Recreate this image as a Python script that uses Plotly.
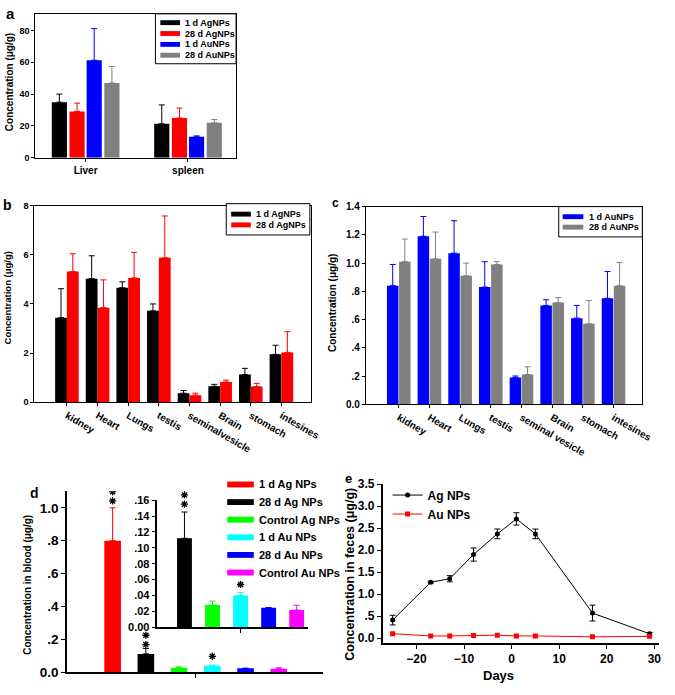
import plotly.graph_objects as go

W, H = 675, 695
FONT = "Liberation Sans"


def px(x):
    return x / W


def py(y):
    return 1 - y / H


# ---------------- data ----------------
# panel a
a_organs = ["Liver", "spleen"]
a_ag1 = [34.9, 21.3]
a_ag1_err = [5.1, 11.9]
a_ag28 = [29.1, 25.0]
a_ag28_err = [5.2, 6.2]
a_au1 = [61.3, 13.1]
a_au1_err = [19.9, 0.6]
a_au28 = [47.0, 21.9]
a_au28_err = [10.4, 2.1]
a_names = ["1 d AgNPs", "28 d AgNPs", "1 d AuNPs", "28 d AuNPs"]

# panel b
b_organs = ["kidney", "Heart", "Lungs", "testis", "seminalvesicle", "Brain", "stomach", "intesines"]
b_ag1 = [3.44, 5.03, 4.66, 3.72, 0.37, 0.65, 1.13, 1.95]
b_ag1_err = [1.18, 0.93, 0.24, 0.28, 0.11, 0.08, 0.25, 0.37]
b_ag28 = [5.32, 3.85, 5.06, 5.88, 0.29, 0.82, 0.64, 2.03]
b_ag28_err = [0.72, 1.13, 1.04, 1.70, 0.08, 0.08, 0.13, 0.84]
b_names = ["1 d AgNPs", "28 d AgNPs"]

# panel c
c_organs = ["kidney", "Heart", "Lungs", "testis", "seminal vesicle", "Brain", "stomach", "intesines"]
c_au1 = [0.84, 1.19, 1.07, 0.83, 0.19, 0.70, 0.61, 0.75]
c_au1_err = [0.15, 0.14, 0.23, 0.18, 0.01, 0.04, 0.09, 0.19]
c_au28 = [1.01, 1.03, 0.91, 0.99, 0.21, 0.72, 0.57, 0.84]
c_au28_err = [0.16, 0.19, 0.09, 0.02, 0.055, 0.035, 0.165, 0.165]
c_names = ["1 d AuNPs", "28 d AuNPs"]

# panel d
d_groups = ["1 d Ag NPs", "28 d Ag NPs", "Control Ag NPs", "1 d Au NPs", "28 d Au NPs", "Control Au NPs"]
d_vals = [0.80, 0.112, 0.028, 0.040, 0.0246, 0.0217]
d_err = [0.20, 0.033, 0.005, 0.004, 0.0, 0.006]
d_stars = [2, 2, 0, 1, 0, 0]
d_colors = ["#FF0000", "#000000", "#00FF00", "#00FFFF", "#0000FF", "#FF00FF"]

# panel e
e_days = [-25, -17, -13, -8, -3, 1, 5, 17, 29]
e_ag = [0.41, 1.27, 1.35, 1.90, 2.37, 2.71, 2.37, 0.57, 0.10]
e_ag_err = [0.11, 0.02, 0.07, 0.15, 0.11, 0.14, 0.11, 0.18, 0.03]
e_au = [0.10, 0.05, 0.05, 0.06, 0.067, 0.05, 0.05, 0.03, 0.04]

BLACK, RED, BLUE, GREY = "#000000", "#FF0000", "#0000FF", "#808080"

# axis geometry (pixels) for panel d
D_MAIN = dict(x0=68, x1=328, y0=495, y1=680, xr=(-1.376, 6.32), yr=(0, 1.1))
D_INS = dict(x0=160, x1=313, y0=504, y1=634, xr=(-0.965, 4.4), yr=(0, 0.16))
STAR_ROOM = 14  # extra pixels above the inset used by the (invisible) star layer
# star placement style: pixel lift of first star per bar, pixel gap between stars
STAR_LIFT_MAIN = [7, 4, 0, 9, 0, 0]
STAR_LIFT_INS = [0, 8, 0, 8, 0, 0]
STAR_GAP = 9.5

fig = go.Figure()


def bar(x, y, err, color, xa, ya, width, offset=None, cap=3):
    kw = dict(offset=offset) if offset is not None else {}
    return go.Bar(
        x=x, y=y, width=width, marker=dict(color=color, line=dict(width=0)),
        error_y=dict(type="data", array=err, arrayminus=[0] * len(err), symmetric=False,
                     color=color, thickness=1, width=cap),
        xaxis=xa, yaxis=ya, showlegend=False, **kw)


# panel a bars
a_series = [(a_ag1, a_ag1_err, BLACK), (a_ag28, a_ag28_err, RED),
            (a_au1, a_au1_err, BLUE), (a_au28, a_au28_err, GREY)]
a_offsets = [-0.33, -0.157, 0.01, 0.183]
for (v, e, c), off in zip(a_series, a_offsets):
    fig.add_trace(bar(a_organs, v, e, c, "x", "y", 0.148, off))

# panel b bars
for (v, e, c), off in zip([(b_ag1, b_ag1_err, BLACK), (b_ag28, b_ag28_err, RED)], [-0.385, 0.0]):
    fig.add_trace(bar(b_organs, v, e, c, "x2", "y2", 0.385, off))

# panel c bars
for (v, e, c), off in zip([(c_au1, c_au1_err, BLUE), (c_au28, c_au28_err, GREY)], [-0.385, 0.01]):
    fig.add_trace(bar(c_organs, v, e, c, "x3", "y3", 0.375, off))

# panel d main + inset bars
for i, (v, e, c) in enumerate(zip(d_vals, d_err, d_colors)):
    fig.add_trace(bar([i], [v], [e], c, "x4", "y4", 0.5, cap=3))
    if i > 0:
        fig.add_trace(bar([i - 1], [v], [e], c, "x5", "y5", 0.53, cap=3))

# significance stars (markers at the error-bar tips, lifted by a pixel amount)
main_upp = (D_MAIN["yr"][1] - D_MAIN["yr"][0]) / (D_MAIN["y1"] - D_MAIN["y0"])
ins_upp = (D_INS["yr"][1] - D_INS["yr"][0]) / (D_INS["y1"] - D_INS["y0"])
sx_m, sy_m, sx_i, sy_i = [], [], [], []
for i, (v, e, n) in enumerate(zip(d_vals, d_err, d_stars)):
    for k in range(n):
        sx_m.append(i)
        sy_m.append(v + e + (STAR_LIFT_MAIN[i] + k * STAR_GAP) * main_upp)
        if i > 0:
            sx_i.append(i - 1)
            sy_i.append(v + e + (STAR_LIFT_INS[i] + k * STAR_GAP) * ins_upp)
star_marker = dict(symbol="asterisk-open", size=6, color="black", line=dict(color="black", width=1.3))
fig.add_trace(go.Scatter(x=sx_m, y=sy_m, mode="markers", marker=star_marker, showlegend=False,
                         xaxis="x4", yaxis="y4"))
fig.add_trace(go.Scatter(x=sx_i, y=sy_i, mode="markers", marker=star_marker, showlegend=False,
                         xaxis="x7", yaxis="y7"))

# panel e lines
fig.add_trace(go.Scatter(x=e_days, y=e_ag, mode="lines+markers", name="Ag NPs",
                         line=dict(color=BLACK, width=1), marker=dict(color=BLACK, size=5),
                         error_y=dict(type="data", array=e_ag_err, color=BLACK, thickness=1, width=3),
                         xaxis="x6", yaxis="y6", legend="legend"))
fig.add_trace(go.Scatter(x=e_days, y=e_au, mode="lines+markers", name="Au NPs",
                         line=dict(color=RED, width=1), marker=dict(color=RED, size=5, symbol="square"),
                         xaxis="x6", yaxis="y6", legend="legend"))

# ---------------- axes ----------------
line_kw = dict(showline=True, linecolor="black", linewidth=1, ticks="outside", ticklen=3,
               tickcolor="black", tickwidth=1, showgrid=False, zeroline=False)
tf9 = dict(family=FONT, size=9, color="black", weight="bold")
tf10 = dict(family=FONT, size=10, color="black", weight="bold")

layout = dict(
    width=W, height=H, margin=dict(l=0, r=0, t=0, b=0),
    paper_bgcolor="white", plot_bgcolor="rgba(0,0,0,0)", barmode="overlay",
    font=dict(family=FONT, color="black"),
    xaxis=dict(domain=[px(36), px(240)], anchor="y", range=[-0.49, 1.47], mirror=True,
               tickfont=tf10, **line_kw),
    yaxis=dict(domain=[py(154), py(7)], anchor="x", range=[0, 90.5], mirror=True,
               tickvals=[0, 20, 40, 60, 80], tickfont=tf9, **line_kw),
    xaxis2=dict(domain=[px(35), px(316)], anchor="y2", range=[-1.06, 7.96], mirror=True,
                tickangle=30, tickfont=tf10, **line_kw),
    yaxis2=dict(domain=[py(404), py(203)], anchor="x2", range=[0, 8], mirror=True,
                tickvals=[0, 2, 4, 6, 8], tickfont=tf9, **line_kw),
    xaxis3=dict(domain=[px(372), px(653)], anchor="y3", range=[-1.07, 7.94], mirror=True,
                tickangle=30, tickfont=tf10, **line_kw),
    yaxis3=dict(domain=[py(406), py(204)], anchor="x3", range=[0, 1.4], mirror=True,
                tickvals=[0, 0.2, 0.4, 0.6, 0.8, 1.0, 1.2, 1.4],
                ticktext=["0.0", ".2", ".4", ".6", ".8", "1.0", "1.2", "1.4"], tickfont=tf10, **line_kw),
)
thick = dict(line_kw)
thick.update(linewidth=1.5, ticklen=4)
layout.update(
    xaxis4=dict(domain=[px(D_MAIN["x0"]), px(D_MAIN["x1"])], anchor="y4", range=list(D_MAIN["xr"]),
                tickvals=[2.5], ticktext=[""], **thick),
    yaxis4=dict(domain=[py(D_MAIN["y1"]), py(D_MAIN["y0"])], anchor="x4", range=list(D_MAIN["yr"]),
                tickvals=[0, 0.2, 0.4, 0.6, 0.8, 1.0],
                ticktext=["0.0", ".2", ".4", ".6", ".8", "1.0"],
                tickfont=dict(family=FONT, size=13.5, color="black", weight="bold"), **thick),
    xaxis5=dict(domain=[px(D_INS["x0"]), px(D_INS["x1"])], anchor="y5", range=list(D_INS["xr"]),
                tickvals=[2], ticktext=[""], **thick),
    yaxis5=dict(domain=[py(D_INS["y1"]), py(D_INS["y0"])], anchor="x5", range=list(D_INS["yr"]),
                tickvals=[0, 0.02, 0.04, 0.06, 0.08, 0.10, 0.12, 0.14, 0.16],
                ticktext=["0.00", ".02", ".04", ".06", ".08", ".10", ".12", ".14", ".16"],
                tickfont=dict(family=FONT, size=11, color="black", weight="bold"), **thick),
    # invisible twin of the inset with extra headroom, same scale, for the stars
    xaxis7=dict(domain=[px(D_INS["x0"]), px(D_INS["x1"])], anchor="y7", range=list(D_INS["xr"]),
                visible=False),
    yaxis7=dict(domain=[py(D_INS["y1"]), py(D_INS["y0"] - STAR_ROOM)], anchor="x7",
                range=[D_INS["yr"][0], D_INS["yr"][1] + STAR_ROOM * ins_upp], visible=False),
    xaxis6=dict(domain=[px(389), px(670)], anchor="y6", range=[-27.1, 31.0],
                tickvals=[-20, -10, 0, 10, 20, 30], ticklabeloverflow="allow",
                tickfont=dict(family=FONT, size=12, color="black", weight="bold"), **thick),
    yaxis6=dict(domain=[py(650), py(487.7)], anchor="x6", range=[-0.11, 3.5],
                tickvals=[0, 0.5, 1.0, 1.5, 2.0, 2.5, 3.0, 3.5],
                ticktext=["0.0", ".5", "1.0", "1.5", "2.0", "2.5", "3.0", "3.5"],
                tickfont=dict(family=FONT, size=12, color="black", weight="bold"), **thick),
    legend=dict(x=px(394), y=py(484), xanchor="left", yanchor="top", bgcolor="rgba(0,0,0,0)",
                borderwidth=0, itemwidth=30, tracegroupgap=0,
                font=dict(family=FONT, size=12, color="black", weight="bold")),
)
fig.update_layout(**layout)

# ---------------- manual legends for a, b, c, d ----------------
shapes = []
annotations = []


def legend_items(sw_x0, sw_x1, txt_x, y_first, step, names, colors, size, sw_h=5):
    for k, (n, c) in enumerate(zip(names, colors)):
        yc = y_first + k * step
        shapes.append(dict(type="rect", xref="paper", yref="paper", x0=px(sw_x0), x1=px(sw_x1),
                           y0=py(yc + sw_h / 2), y1=py(yc - sw_h / 2), line=dict(width=0), fillcolor=c))
        annotations.append(dict(xref="paper", yref="paper", x=px(txt_x), y=py(yc), text=n,
                                showarrow=False, xanchor="left", yanchor="middle",
                                font=dict(family=FONT, size=size, color="black", weight="bold")))


def box_legend(x0, y0, x1, y1, *args, **kw):
    shapes.append(dict(type="rect", xref="paper", yref="paper", x0=px(x0), x1=px(x1),
                       y0=py(y1), y1=py(y0), line=dict(color="black", width=1), fillcolor="white"))
    legend_items(*args, **kw)


box_legend(158, 7, 240, 58, 163, 183, 186, 16, 11.1, a_names, [BLACK, RED, BLUE, GREY], 9)
box_legend(230, 201, 315, 233, 235, 255, 258, 211.7, 11, b_names, [BLACK, RED], 9)
box_legend(568, 204, 653, 235, 572, 593, 597, 214.3, 10.7, c_names, [BLUE, GREY], 9)
legend_items(231, 258, 261, 488, 18, d_groups, d_colors, 11, sw_h=6)


def text_ann(x, y, t, size, angle=0):
    annotations.append(dict(xref="paper", yref="paper", x=px(x), y=py(y), text=t, showarrow=False,
                            textangle=angle, xanchor="center", yanchor="middle",
                            font=dict(family=FONT, size=size, color="black", weight="bold")))


# axis titles
text_ann(10, 77, "Concentration (μg/g)", 10, -90)
text_ann(8, 297, "Concentration (μg/g)", 9.5, -90)
text_ann(338, 302, "Concentration (μg/g)", 10, -90)
text_ann(28, 591, "Concentration in blood (μg/g)", 10, -90)
text_ann(356, 580, "Concentration in feces (μg/g)", 12.5, -90)
text_ann(507, 683, "Days", 13)
# panel letters
text_ann(11, 7, "a", 15)
text_ann(8, 202, "b", 14)
text_ann(341, 200, "c", 12)
text_ann(35, 497, "d", 14)
text_ann(354, 482, "e", 13)

fig.update_layout(shapes=shapes, annotations=annotations)
fig.write_html("out.html", config={"displayModeBar": False},
               post_script="document.body.style.margin='0';")
